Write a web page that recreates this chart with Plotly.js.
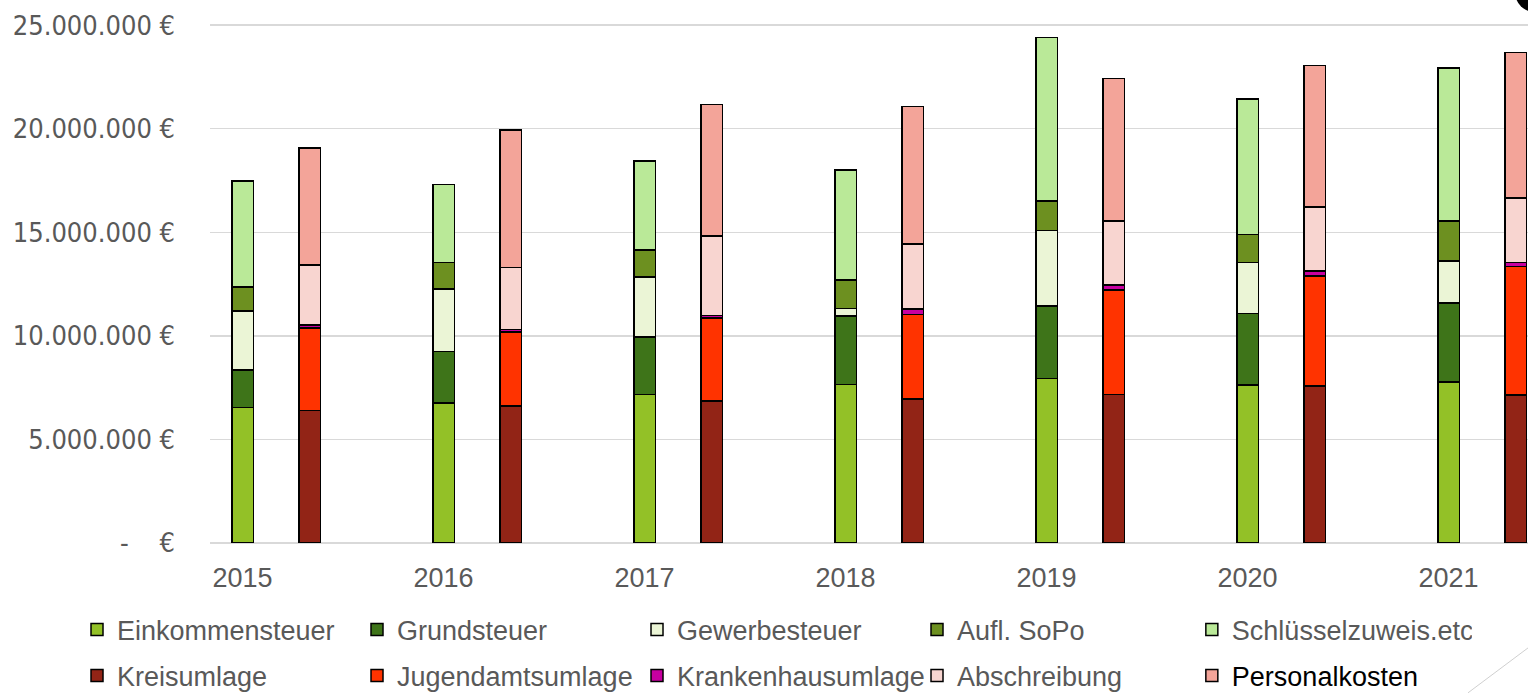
<!DOCTYPE html>
<html>
<head>
<meta charset="utf-8">
<script src="https://cdn.plot.ly/plotly-3.0.1.min.js"></script>
<style>
  html, body { margin: 0; padding: 0; background: #ffffff; }
  #chart { width: 1528px; height: 695px; }
</style>
</head>
<body>
<div id="chart"></div>
<script>
// ---- Data (values in €) ----
const years = [2015, 2016, 2017, 2018, 2019, 2020, 2021];
const yearLabels = ["2015", "2016", "2017", "2018", "2019", "2020", "2021"];

// Revenues (green stack)
const einkommensteuer   = [6530000, 6760000, 7160000, 7660000, 7930000, 7630000, 7780000];
const grundsteuer       = [1820000, 2490000, 2780000, 3300000, 3510000, 3440000, 3810000];
const gewerbesteuer     = [2850000, 3010000, 2900000, 370000, 3640000, 2460000, 2020000];
const auflSoPo          = [1170000, 1270000, 1300000, 1360000, 1440000, 1370000, 1930000];
const schluesselzuweis  = [5100000, 3780000, 4300000, 5310000, 7890000, 6530000, 7390000];

// Expenses (red stack)
const kreisumlage       = [6390000, 6610000, 6850000, 6950000, 7160000, 7590000, 7140000];
const jugendamtsumlage  = [4000000, 3570000, 4010000, 4090000, 5060000, 5310000, 6210000];
const krankenhausumlage = [130000, 130000, 130000, 250000, 230000, 230000, 190000];
const abschreibung      = [2900000, 3000000, 3830000, 3140000, 3090000, 3100000, 3120000];
const personalkosten    = [5640000, 6620000, 6350000, 6650000, 6880000, 6810000, 7030000];

// Y-axis ticks
const yTickVals = [0, 5000000, 10000000, 15000000, 20000000, 25000000];
const yTickText = ["-\u00A0\u00A0\u00A0\u00A0€", "5.000.000 €", "10.000.000 €", "15.000.000 €", "20.000.000 €", "25.000.000 €"];

// ---- Styling ----
const barWidth = 0.107;
const expenseOffset = 1 / 3;
const outline = { color: "#000000", width: 1.5 };

const revenueSeries = [
  { name: "Einkommensteuer", y: einkommensteuer, color: "#93C127", lg: "legend" },
  { name: "Grundsteuer", y: grundsteuer, color: "#3E7419", lg: "legend" },
  { name: "Gewerbesteuer", y: gewerbesteuer, color: "#EBF5D6", lg: "legend" },
  { name: "Aufl. SoPo", y: auflSoPo, color: "#6D9020", lg: "legend" },
  { name: "Schlüsselzuweis.etc", y: schluesselzuweis, color: "#BAE998", lg: "legend3" }
];
const expenseSeries = [
  { name: "Kreisumlage", y: kreisumlage, color: "#922416", lg: "legend2" },
  { name: "Jugendamtsumlage", y: jugendamtsumlage, color: "#FF3300", lg: "legend2" },
  { name: "Krankenhausumlage", y: krankenhausumlage, color: "#C800A0", lg: "legend2" },
  { name: "Abschreibung", y: abschreibung, color: "#F8D5D0", lg: "legend2" },
  { name: "<span style=\"color:#000000\">Personalkosten</span>", y: personalkosten, color: "#F3A499", lg: "legend4" }
];

const xRev = years.slice();
const xExp = years.map(v => v + expenseOffset);

function makeTrace(s, xs) {
  return {
    type: "bar", x: xs, y: s.y, name: s.name, width: barWidth,
    marker: { color: s.color, line: outline }, legend: s.lg
  };
}

const traces = [];
revenueSeries.forEach(s => traces.push(makeTrace(s, xRev)));
expenseSeries.forEach(s => traces.push(makeTrace(s, xExp)));

const legendFont = { family: "Liberation Sans, Arial, sans-serif", size: 27, color: "#595959" };

function legendAt(x, y) {
  return {
    orientation: "h", traceorder: "normal",
    xref: "container", yref: "container",
    x: x, xanchor: "left", y: y, yanchor: "top",
    entrywidth: 235, entrywidthmode: "pixels",
    font: legendFont, bgcolor: "rgba(0,0,0,0)", itemclick: false, itemdoubleclick: false
  };
}

const layout = {
  width: 1528, height: 695,
  margin: { l: 210, r: 0, t: 21, b: 152 },
  paper_bgcolor: "#ffffff", plot_bgcolor: "#ffffff",
  barmode: "stack",
  showlegend: true,
  xaxis: {
    range: [2014.838, 2021.395],
    tickvals: years, ticktext: yearLabels,
    showgrid: false, zeroline: false, showline: false, ticks: "",
    tickfont: { family: "Liberation Sans, Arial, sans-serif", size: 27, color: "#595959" },
    ticklabelstandoff: 16
  },
  yaxis: {
    range: [0, 25200000],
    tickvals: yTickVals, ticktext: yTickText,
    showgrid: true, gridcolor: "#D9D9D9", gridwidth: 1.5,
    zeroline: true, zerolinecolor: "#D9D9D9", zerolinewidth: 1.5,
    showline: false, ticks: "",
    tickfont: { family: "Liberation Sans Narrow, DejaVu Sans Condensed, sans-serif", size: 27, color: "#595959" },
    ticklabelstandoff: 34
  },
  legend:  legendAt(0.0504, 0.1288),
  legend2: legendAt(0.0504, 0.0626),
  legend3: legendAt(0.7800, 0.1288),
  legend4: legendAt(0.7800, 0.0626),
  shapes: [
    { type: "circle", xref: "paper", yref: "paper", x0: 0.9901, x1: 1.0205, y0: 1.0172, y1: 1.0939,
      fillcolor: "#000000", line: { width: 0 } },
    { type: "line", xref: "paper", yref: "paper", x0: 0.9545, y0: -0.287, x1: 1.0, y1: -0.201,
      line: { color: "#D0D0D0", width: 1 } }
  ]
};

Plotly.newPlot("chart", traces, layout, { displayModeBar: false, staticPlot: true });
</script>
</body>
</html>
